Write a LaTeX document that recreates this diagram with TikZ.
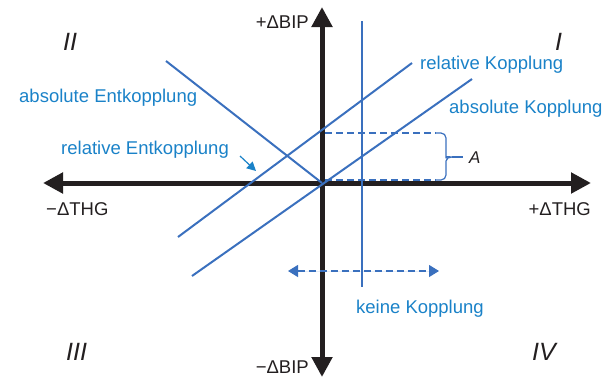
\documentclass[tikz,border=0pt]{standalone}
\usepackage{fontspec}
\setmainfont{Liberation Sans}
\usetikzlibrary{arrows.meta}
\definecolor{lineblue}{RGB}{58,112,190}
\definecolor{textblue}{RGB}{26,130,200}
\definecolor{axisblack}{RGB}{35,31,32}
\begin{document}
\begin{tikzpicture}[x=1pt,y=-1pt,
  axis/.style={line width=5pt, draw=axisblack, {Triangle[length=20pt,width=20pt]}-{Triangle[length=20pt,width=20pt]}},
  bline/.style={draw=lineblue, line width=2pt},
  dline/.style={draw=lineblue, line width=1.2pt, dash pattern=on 7pt off 4pt},
  lab/.style={inner sep=0pt, anchor=base west, font=\fontsize{18.5pt}{22pt}\selectfont},
  bluelab/.style={lab, text=textblue},
  blacklab/.style={lab, text=axisblack},
  roman/.style={inner sep=0pt, anchor=base west, text=axisblack, font=\fontsize{25pt}{30pt}\selectfont\itshape}
]
\useasboundingbox (0,0) rectangle (616,378);
% axes
\coordinate (O) at (322,183);
\coordinate (W) at (43,183);
\coordinate (E) at (591,183);
\coordinate (N) at (322,7);
\coordinate (S) at (322,377);
\draw[axis] (W) -- (E);
\draw[axis] (S) -- (N);
% blue lines
\coordinate (ae1) at (166,61);
\coordinate (rk1) at (178,237);
\coordinate (rk2) at (412,63);
\coordinate (ak1) at (192,276);
\coordinate (ak2) at (472,79);
\coordinate (kk1) at (362,21);
\coordinate (kk2) at (362,287);
\draw[bline] (ae1) -- (O);
\draw[bline] (rk1) -- (rk2);
\draw[bline] (ak1) -- (ak2);
\draw[bline] (kk1) -- (kk2);
% dashed A markers
\coordinate (A1) at (325,133);
\coordinate (A2) at (436,133);
\coordinate (B1) at (325,180);
\coordinate (B2) at (436,180);
\draw[dline] (A1) -- (A2);
\draw[dline] (B1) -- (B2);
\coordinate (Bt) at (452,157);
\coordinate (At) at (463,157);
\draw[draw=lineblue, line width=1.2pt, line join=round]
  (A2) [rounded corners=5pt] -- (446,133) -- (446,153) [sharp corners] to[out=-90,in=180] (Bt)
  to[out=180,in=90] (446,161) [rounded corners=5pt] -- (446,180) -- (B2);
\draw[draw=lineblue, line width=1.2pt] (Bt) -- (At);
\node[inner sep=0pt, anchor=base west, text=axisblack, font=\fontsize{17pt}{20pt}\selectfont\itshape] (Alab) at (469,163) {A};
% dashed double arrow
\coordinate (d1) at (288,271);
\coordinate (d2) at (439,271);
\draw[dline, fill=lineblue, {Triangle[length=10pt,width=12pt]}-{Triangle[length=10pt,width=12pt]}] (d1) -- (d2);
% small pointer
\coordinate (p1) at (240,156);
\coordinate (p2) at (256,171);
\draw[draw=textblue, fill=textblue, line width=1.2pt, -{Triangle[length=9pt,width=9pt]}] (p1) -- (p2);
% labels
\node[bluelab] (t1) at (19,102) {absolute Entkopplung};
\node[bluelab] (t2) at (61,154) {relative Entkopplung};
\node[bluelab] (t3) at (420,69) {relative Kopplung};
\node[bluelab] (t4) at (449,113) {absolute Kopplung};
\node[bluelab] (t5) at (356,313) {keine Kopplung};
\node[blacklab, anchor=base east] (bp) at (309,28) {+ΔBIP};
\node[blacklab, anchor=base east] (bm) at (309,373) {−ΔBIP};
\node[blacklab] (tm) at (46,215) {−ΔTHG};
\node[blacklab, anchor=base east] (tp) at (591,215) {+ΔTHG};
\node[roman] (q2) at (63,50) {II};
\node[roman] (q1) at (555,50) {I};
\node[roman] (q3) at (66,360) {III};
\node[roman] (q4) at (532,360) {IV};
\end{tikzpicture}
\end{document}
